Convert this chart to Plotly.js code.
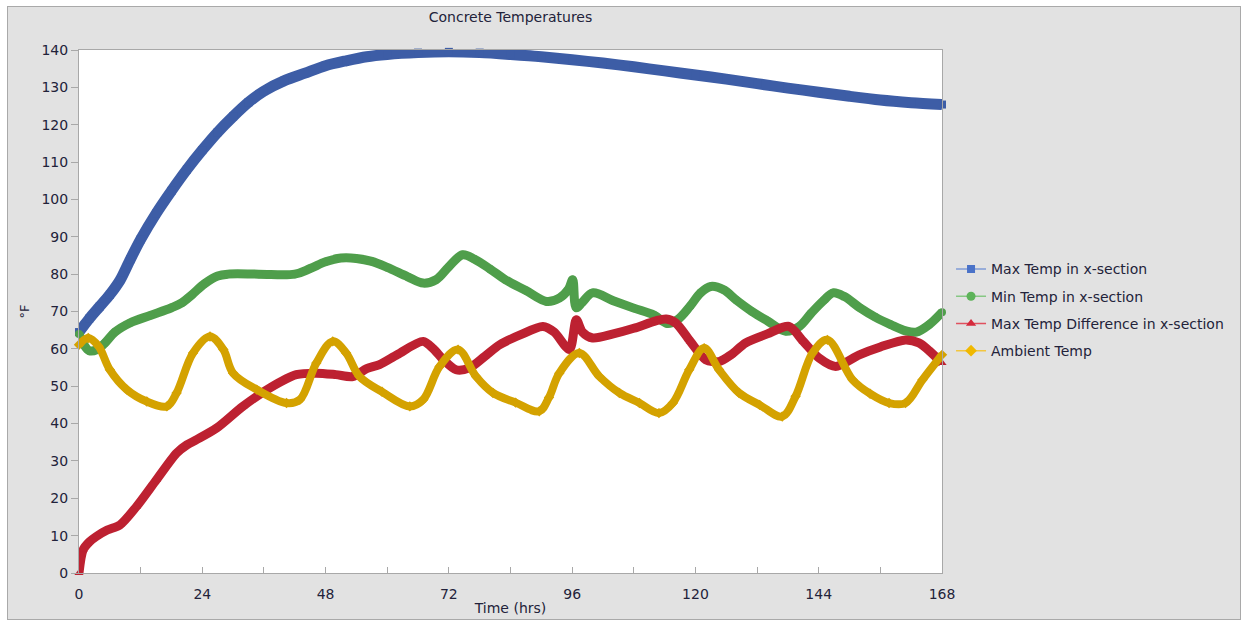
<!DOCTYPE html>
<html>
<head>
<meta charset="utf-8">
<script src="https://cdn.plot.ly/plotly-3.0.1.min.js"></script>
<style>
  html, body { margin: 0; padding: 0; background: #ffffff; }
  #chart { position: absolute; left: 7px; top: 6px; width: 1232px; height: 612px; border: 1px solid #a9a9a9; }
</style>
</head>
<body>
<div id="chart"></div>
<script>
// Time axis (hours) and temperatures (°F) for each series
const maxTempTime = [0, 2, 4, 6, 8, 10, 12, 15, 18, 21, 24, 27, 30, 33, 36, 40, 44, 48, 52, 56, 60, 66, 72, 78, 84, 90, 96, 102, 108, 114, 120, 126, 132, 138, 144, 150, 156, 162, 168];
const maxTemp = [64.5, 68.1, 71.3, 74.5, 78.4, 84, 89.3, 96.2, 102.3, 108, 113.2, 118, 122.2, 126, 129, 131.8, 133.8, 135.8, 137.1, 138.2, 138.8, 139.3, 139.5, 139.3, 138.8, 138.2, 137.4, 136.5, 135.5, 134.4, 133.3, 132.2, 131, 129.8, 128.7, 127.6, 126.6, 125.9, 125.4];

const minTempTime = [0, 1, 2, 3.5, 5, 7, 10, 14, 18, 20, 22, 24.5, 27, 29, 35, 42, 45, 48, 51, 54, 57, 60, 64, 67, 69.5, 72, 74.7, 77, 80, 83, 87, 91, 93.5, 95.3, 96.1, 96.8, 98, 100, 104, 108, 112, 114.5, 116.5, 119, 121, 123, 125.5, 128, 131, 134, 137.6, 140.2, 142.5, 145, 146.8, 149, 152, 155, 158, 161, 163, 165.5, 168];
const minTemp = [64, 61, 59.5, 59.8, 61.5, 64.5, 67, 69, 71, 72.3, 74.5, 77.5, 79.5, 80, 80, 80, 81.5, 83.3, 84.3, 84.2, 83.4, 81.8, 79.3, 77.6, 78.5, 82, 85.2, 84, 81.4, 78.5, 75.6, 72.7, 73.6, 76, 78.5, 71, 72.5, 75, 72.9, 70.9, 69, 66.8, 67.8, 71.5, 75, 76.7, 75.8, 73, 70, 67.5, 64.7, 66, 69.5, 73, 75, 74, 71, 68.5, 66.5, 64.8, 64.5, 66.5, 69.8];

const diffTime = [0, 0.8, 2, 3.4, 5.5, 8, 11.2, 15.1, 19, 21, 22.9, 26.8, 31.9, 37.1, 42.3, 46.2, 50, 53.3, 56, 58.5, 62, 67, 69, 71, 73.4, 76, 79, 81.9, 86, 90.3, 92.5, 95.5, 96.8, 98, 100, 104, 108, 112.3, 114.3, 116.2, 119, 122, 124.6, 127, 129.8, 134, 138.2, 141, 144.1, 147.3, 151.9, 156, 160.9, 163.5, 165.5, 168];
const maxTempDiff = [0, 6.2, 8.3, 9.8, 11.5, 12.9, 17.8, 25, 32.1, 34.3, 35.7, 38.8, 44.6, 49.5, 53.1, 53.5, 53.1, 52.6, 54.7, 55.8, 58.5, 62, 60, 57, 54.4, 54.9, 58, 61.1, 63.8, 66, 64.5, 59.8, 67.8, 64.5, 62.9, 64, 65.5, 67.5, 68, 66.9, 62, 57.1, 56.6, 58.5, 61.6, 64, 66, 62, 57.5, 55.3, 58.4, 60.5, 62.4, 61.6, 59.5, 56.2];

const ambientTime = [0, 1.8, 3.8, 6, 9.3, 13.2, 17.1, 19, 22.2, 25.5, 28.1, 30, 34.6, 40.4, 43, 46.2, 49.4, 52, 54.6, 59, 64.4, 67, 70.2, 73.8, 77.3, 80.6, 85, 89.6, 91.5, 93.5, 97.4, 101.3, 105.2, 109.1, 112.9, 115.6, 118.8, 121.7, 124.6, 128.5, 132.5, 136.9, 139.5, 142.8, 145.7, 150.6, 154, 157.7, 160.9, 164.2, 168];
const ambientTemp = [61.1, 62.9, 60.7, 54.4, 49.1, 45.9, 44.6, 48.2, 58.9, 63.3, 59.8, 53.5, 49.1, 45.5, 46.4, 56.2, 62, 58.9, 52.6, 48.5, 44.6, 46.4, 55.3, 59.8, 52.6, 48.2, 45.6, 43.3, 47, 53.5, 58.9, 52.6, 48.2, 45.5, 42.8, 45.5, 54.4, 60.2, 54.4, 48.2, 45, 41.9, 47.3, 58.9, 62.4, 51.7, 48, 45.5, 45.5, 51.7, 58.4];

const seriesNames = ['Max Temp in x-section', 'Min Temp in x-section', 'Max Temp Difference in x-section', 'Ambient Temp'];
const xTickVals = [0, 24, 48, 72, 96, 120, 144, 168];

const font = 'DejaVu Sans, sans-serif';
const textColor = '#22223a';
const frameColor = '#a8a8a8';

// Thick smoothed curve for the plot itself (legend entry drawn separately)
function curve(x, y, color, symbol, width, msize, smoothing) {
  return {
    type: 'scatter', mode: 'lines+markers', x: x, y: y,
    showlegend: false, cliponaxis: false,
    line: { color: color, width: width, shape: 'spline', smoothing: smoothing },
    marker: { color: color, symbol: symbol, size: msize }
  };
}

// Thin line + marker key in the legend
function key(name, lineColor, markerColor, symbol, msize, group) {
  return {
    type: 'scatter', mode: 'lines+markers', x: [null], y: [null],
    name: name, legendgroup: group, showlegend: true,
    line: { color: lineColor, width: 1.5 },
    marker: { color: markerColor, symbol: symbol, size: msize }
  };
}

const traces = [
  curve(maxTempTime, maxTemp, '#3d5da6', 'square', 11, 8, 0.8),
  curve(minTempTime, minTemp, '#4f9e4b', 'circle', 9, 8, 1.0),
  curve(diffTime, maxTempDiff, '#bd2131', 'triangle-up', 9, 8, 0.8),
  curve(ambientTime, ambientTemp, '#d4a200', 'diamond', 8, 8, 1.0),
  key(seriesNames[0], '#7f9bd6', '#4a72c8', 'square', 8, 'a'),
  key(seriesNames[1], '#86c783', '#5db359', 'circle', 9, 'b'),
  key(seriesNames[2], '#e0505e', '#d42a3c', 'triangle-up', 9, 'c'),
  key(seriesNames[3], '#f2c640', '#f0b800', 'diamond', 9, 'd')
];

const layout = {
  width: 1232, height: 612,
  margin: { l: 71, r: 297, t: 43, b: 46 },
  paper_bgcolor: '#e2e2e2',
  plot_bgcolor: '#ffffff',
  font: { family: font, size: 14, color: textColor },
  showlegend: true,
  title: {
    text: 'Concrete Temperatures',
    font: { family: font, size: 14, color: textColor },
    x: 0.5, xref: 'paper', xanchor: 'center',
    y: 0.983, yref: 'container', yanchor: 'middle'
  },
  xaxis: {
    range: [0, 168], tickvals: xTickVals, ticktext: xTickVals.map(String),
    ticks: 'inside', ticklen: 6, tickcolor: frameColor, tickwidth: 1,
    minor: { dtick: 12, tick0: 0, ticks: 'inside', ticklen: 6, tickcolor: frameColor, showgrid: false },
    showgrid: false, zeroline: false,
    showline: true, linecolor: frameColor, linewidth: 1, mirror: true,
    ticklabelstandoff: 8,
    tickfont: { family: font, size: 14, color: textColor },
    title: { text: 'Time (hrs)', font: { family: font, size: 14, color: textColor }, standoff: 2 }
  },
  yaxis: {
    range: [0, 140], dtick: 10, tick0: 0,
    ticks: 'outside', ticklen: 7, tickcolor: frameColor, tickwidth: 1,
    showgrid: false, zeroline: false,
    showline: true, linecolor: frameColor, linewidth: 1, mirror: true,
    tickfont: { family: font, size: 14, color: textColor },
    title: { text: '°F', font: { family: font, size: 13, color: textColor }, standoff: 8 }
  },
  legend: {
    x: 1.0093, xanchor: 'left', y: 0.503, yanchor: 'middle',
    bgcolor: 'rgba(0,0,0,0)', borderwidth: 0,
    font: { family: font, size: 14, color: textColor },
    tracegroupgap: 6, itemwidth: 30
  }
};

Plotly.newPlot('chart', traces, layout, { staticPlot: true });
</script>
</body>
</html>
